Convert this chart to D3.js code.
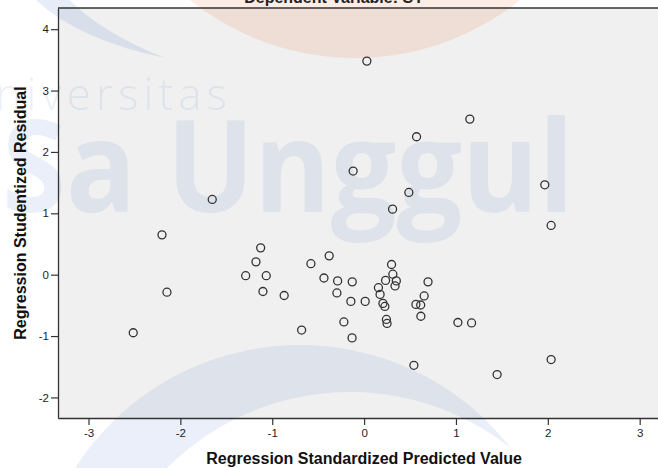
<!DOCTYPE html>
<html><head><meta charset="utf-8">
<script src="https://cdn.jsdelivr.net/npm/d3@7"></script>
<style>html,body{margin:0;padding:0;background:#fff;overflow:hidden}svg{display:block}</style>
</head><body><svg id="chart" width="658" height="468"></svg>
<script>
// Regression Standardized Predicted Value (x) and Regression Studentized Residual (y)
const predicted = [0.03, 1.151, 0.571, -0.119, 1.967, 0.487, -1.653, 0.310, 2.036, -2.200,
  -1.126, -0.380, -1.177, -0.579, 0.299, 0.313, -1.289, -1.065, -0.437, -0.288,
  -0.129, 0.234, 0.351, 0.696, 0.337, 0.156, -2.146, -1.101, -0.296, 0.174,
  -0.870, 0.654, -0.144, 0.012, 0.205, 0.226, 0.564, 0.616, 0.618, -0.220,
  0.243, 0.250, 1.021, 1.170, -0.680, -2.513, -0.131, 2.036, 0.542, 1.448];
const residual = [3.48, 2.535, 2.247, 1.688, 1.464, 1.340, 1.226, 1.068, 0.802, 0.649,
  0.437, 0.307, 0.209, 0.179, 0.166, 0.008, -0.016, -0.016, -0.054, -0.101,
  -0.117, -0.093, -0.101, -0.117, -0.183, -0.212, -0.285, -0.274, -0.297, -0.321,
  -0.339, -0.346, -0.435, -0.435, -0.468, -0.517, -0.484, -0.494, -0.677, -0.770,
  -0.729, -0.794, -0.779, -0.786, -0.902, -0.946, -1.030, -1.383, -1.476, -1.627];
const xTicks = [-3, -2, -1, 0, 1, 2, 3];
const yTicks = [-2, -1, 0, 1, 2, 3, 4];
const chartTitle = "Dependent Variable: SY";
const xTitle = "Regression Standardized Predicted Value";
const yTitle = "Regression Studentized Residual";
const watermarkTop = "Universitas";
const watermarkMain = "Sa Unggul";

const W = 658, H = 468;
const plot = {left: 58, right: 670, top: 8, bottom: 418};
const svg = d3.select("#chart");
const FONT = "Arial, 'Liberation Sans', sans-serif";

const x = d3.scaleLinear().domain([-3.332, 3.33]).range([plot.left, plot.right]);
const y = d3.scaleLinear().domain([-2.335, 4.345]).range([plot.bottom, plot.top]);

svg.append("rect").attr("width", W).attr("height", H).attr("fill", "#fff");
svg.append("rect").attr("x", plot.left).attr("y", plot.top)
  .attr("width", plot.right - plot.left).attr("height", plot.bottom - plot.top)
  .attr("fill", "#f0f0f0");

// watermark
const wm = svg.append("g").attr("pointer-events", "none");
wm.append("circle").attr("cx", 355).attr("cy", -206).attr("r", 264)
  .attr("fill", "rgb(242,101,34)").attr("opacity", 0.12);
wm.append("path").attr("d", "M28,-8 Q70,38 165,58 Q95,30 62,-8 Z")
  .attr("fill", "rgb(60,110,200)").attr("opacity", 0.12);
const defs = svg.append("defs");
const mask = defs.append("mask").attr("id", "cres");
mask.append("rect").attr("width", W).attr("height", H).attr("fill", "#fff");
mask.append("circle").attr("cx", 350).attr("cy", 650).attr("r", 258).attr("fill", "#000");
wm.append("circle").attr("cx", 300).attr("cy", 612).attr("r", 267)
  .attr("mask", "url(#cres)").attr("fill", "rgb(60,110,200)").attr("opacity", 0.1);
wm.append("text").attr("x", 232).attr("y", 110).attr("text-anchor", "end")
  .attr("font-family", "'Open Sans', Lato, sans-serif").attr("font-weight", 300)
  .attr("font-size", 44).attr("letter-spacing", 5)
  .attr("fill", "rgb(60,110,200)").attr("opacity", 0.1).text(watermarkTop);
wm.append("text").attr("x", 2).attr("y", 212)
  .attr("font-family", "'Open Sans', Lato, sans-serif").attr("font-weight", 700)
  .attr("font-size", 128).attr("textLength", 572).attr("lengthAdjust", "spacingAndGlyphs")
  .attr("fill", "rgb(60,110,200)").attr("opacity", 0.1).text(watermarkMain);

// axes
const yAxis = d3.axisLeft(y).tickValues(yTicks).tickSize(7).tickSizeOuter(0).tickPadding(2)
  .tickFormat(d3.format("d"));
const xAxis = d3.axisBottom(x).tickValues(xTicks).tickSize(7).tickSizeOuter(0).tickPadding(4)
  .tickFormat(d3.format("d"));
const gy = svg.append("g").attr("transform", `translate(${plot.left},0)`).call(yAxis);
const gx = svg.append("g").attr("transform", `translate(0,${plot.bottom})`).call(xAxis);
[gx, gy].forEach(g => {
  g.select(".domain").attr("stroke", "#333").attr("stroke-width", 1.3);
  g.selectAll(".tick line").attr("stroke", "#333").attr("stroke-width", 1.2);
  g.selectAll(".tick text").attr("font-family", FONT).attr("font-size", 11.5).attr("fill", "#222")
    .text(d => d < 0 ? "-" + Math.abs(d) : d);
});
svg.append("line").attr("x1", plot.left).attr("x2", plot.right)
  .attr("y1", plot.top).attr("y2", plot.top).attr("stroke", "#333").attr("stroke-width", 1.3);

// points
svg.append("g").selectAll("circle").data(predicted.map((p, i) => [p, residual[i]]))
  .join("circle")
  .attr("cx", d => x(d[0])).attr("cy", d => y(d[1])).attr("r", 4)
  .attr("fill", "none").attr("stroke", "#333").attr("stroke-width", 1.3);

// titles
svg.append("text").attr("x", 334).attr("y", 3).attr("text-anchor", "middle")
  .attr("font-family", FONT).attr("font-weight", "bold").attr("font-size", 16)
  .attr("fill", "#222").text(chartTitle);
svg.append("text").attr("x", x(0)).attr("y", 464).attr("text-anchor", "middle")
  .attr("font-family", FONT).attr("font-weight", "bold").attr("font-size", 16)
  .attr("fill", "#111").text(xTitle);
svg.append("text").attr("transform", `translate(26,${(plot.top + plot.bottom) / 2}) rotate(-90)`)
  .attr("text-anchor", "middle")
  .attr("font-family", FONT).attr("font-weight", "bold").attr("font-size", 16)
  .attr("fill", "#111").text(yTitle);
</script></body></html>
